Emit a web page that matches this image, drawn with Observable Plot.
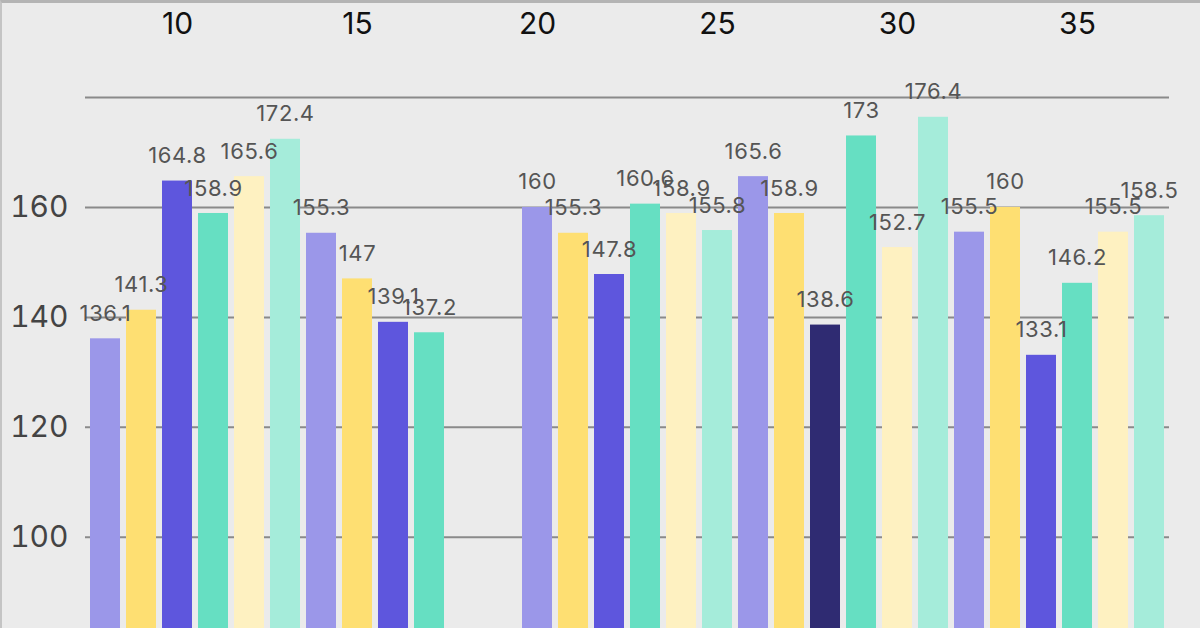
<!DOCTYPE html>
<html>
<head>
<meta charset="utf-8">
<script src="https://cdn.jsdelivr.net/npm/d3@7"></script>
<script src="https://cdn.jsdelivr.net/npm/@observablehq/plot@0.6"></script>
<style>
  html, body { margin: 0; padding: 0; background: #ebebeb; overflow: hidden; }
  #wrap { position: relative; width: 1200px; height: 628px; }
  #frame { position: absolute; left: 0; top: 0; width: 1200px; height: 628px;
           border-top: 3px solid #b4b4b4; border-left: 2px solid #c4c4c4; box-sizing: border-box; pointer-events: none; }
  .vlabel text { letter-spacing: 0.6px; }
</style>
</head>
<body>
<div id="wrap"><div id="chart"></div><div id="frame"></div></div>
<script>
// Band positions (x values), including empty slots 18 and 19
const xDomain = [8,9,10,11,12,13,14,15,16,17,18,19,20,21,22,23,24,25,26,27,28,29,30,31,32,33,34,35,36,37];
const positions = [8,9,10,11,12,13,14,15,16,17,20,21,22,23,24,25,26,27,28,29,30,31,32,33,34,35,36,37];
const values = [136.1,141.3,164.8,158.9,165.6,172.4,155.3,147,139.1,137.2,160,155.3,147.8,160.6,158.9,155.8,165.6,158.9,138.6,173,152.7,176.4,155.5,160,133.1,146.2,155.5,158.5];
const groups = ["a","b","c","d","e","f","a","b","c","d","a","b","c","d","e","f","a","b","h","d","e","f","a","b","c","d","e","f"];
const groupKeys = ["a","b","c","d","e","f","h"];
const palette = ["#9b97e9","#fedf72","#5e56dd","#66dfc2","#fef1c1","#a5ecda","#2f2b72"];
const xTicks = [10,15,20,25,30,35];
const yTicks = [100,120,140,160];
const gridTicks = [100,120,140,160,180];

const data = positions.map((p, i) => ({pos: p, value: values[i], group: groups[i]}));

const chart = Plot.plot({
  width: 1200,
  height: 628,
  marginTop: 97,
  marginBottom: 0,
  marginLeft: 85,
  marginRight: 31,
  style: {background: "#ebebeb", fontFamily: "Inter, 'Liberation Sans', sans-serif", overflow: "hidden"},
  x: {type: "band", domain: xDomain, paddingInner: 0.17, paddingOuter: 0.085, axis: null},
  y: {domain: [83.4, 180], axis: null},
  color: {domain: groupKeys, range: palette},
  marks: [
    Plot.gridY(gridTicks, {stroke: "#8a8a8a", strokeOpacity: 1, strokeWidth: 2}),
    Plot.barY(data, {x: "pos", y: "value", fill: "group", clip: true}),
    Plot.text(data, {x: "pos", y: "value", text: d => String(d.value), dy: -25, fontSize: 22, fill: "#555", lineAnchor: "middle", className: "vlabel"}),
    Plot.axisX(xTicks, {anchor: "top", tickSize: 0, tickPadding: 64, fontSize: 30, fill: "#111", label: null}),
    Plot.axisY(yTicks, {anchor: "left", tickSize: 0, tickPadding: 17, fontSize: 30, fill: "#444", label: null})
  ]
});
document.getElementById("chart").appendChild(chart);
</script>
</body>
</html>
